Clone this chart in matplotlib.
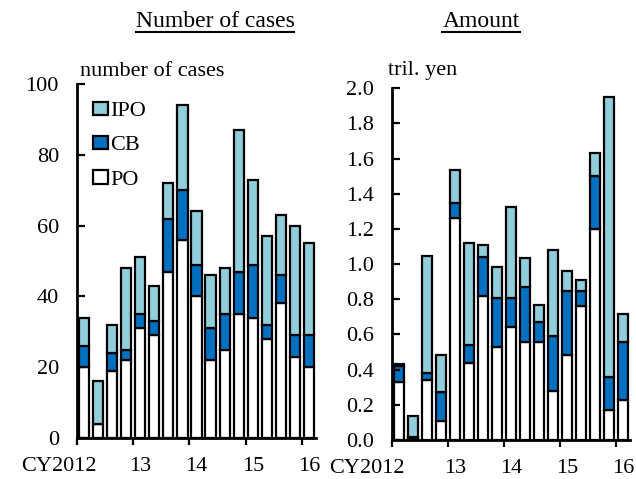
import matplotlib
matplotlib.use('Agg')
import matplotlib.pyplot as plt
from matplotlib.patches import Patch
from matplotlib.lines import Line2D
from matplotlib.transforms import ScaledTranslation
import numpy as np

plt.rcParams['font.family'] = ['Liberation Serif', 'DejaVu Serif']

# quarterly, CY2012 Q1 .. CY2016 Q1
year_labels = ['CY2012', '13', '14', '15', '16']

# number of cases
cases_po = [20, 4, 19, 22, 31, 29, 47, 56, 40, 22, 25, 35, 34, 28, 38, 23, 20]
cases_cb = [6, 0, 5, 3, 4, 4, 15, 14, 9, 9, 10, 12, 15, 4, 8, 6, 9]
cases_ipo = [8, 12, 8, 23, 16, 10, 10, 24, 15, 15, 13, 40, 24, 25, 17, 31, 26]

# amount, tril. yen
amt_po = [0.33, 0.01, 0.34, 0.11, 1.26, 0.44, 0.82, 0.53, 0.645, 0.555, 0.555, 0.28, 0.485, 0.76, 1.20, 0.17, 0.23]
amt_cb = [0.09, 0.005, 0.04, 0.165, 0.085, 0.10, 0.22, 0.28, 0.16, 0.315, 0.115, 0.31, 0.36, 0.085, 0.30, 0.19, 0.325]
amt_ipo = [0.015, 0.12, 0.665, 0.21, 0.19, 0.58, 0.07, 0.175, 0.52, 0.165, 0.10, 0.49, 0.115, 0.065, 0.13, 1.59, 0.16]

c_po = 'white'
c_cb = '#0070C0'
c_ipo = '#92CDDC'

fig = plt.figure(figsize=(6.36, 4.79), dpi=100)
ax1 = fig.add_axes([77/636, 1-438/479, 239/636, 354/479])
ax2 = fig.add_axes([392/636, 1-440/479, 238/636, 351.7/479])


def stacked(ax, po, cb, ipo, first_shift):
    x = np.arange(len(po))
    po = np.array(po); cb = np.array(cb); ipo = np.array(ipo)
    kw = dict(width=0.72, edgecolor='black', linewidth=1.6)
    ax.bar(x, po, color=c_po, **kw)
    ax.bar(x, cb, bottom=po, color=c_cb, **kw)
    ax.bar(x, ipo, bottom=po+cb, color=c_ipo, **kw)
    ax.set_xlim(-0.5, len(po)-0.5)
    for s in ['top', 'right']:
        ax.spines[s].set_visible(False)
    for s in ['left', 'bottom']:
        ax.spines[s].set_linewidth(2)
    ax.set_xticks(np.arange(-0.5, len(po), 4))
    ax.set_xticklabels([])
    ax.set_xticks(np.arange(0, len(po), 4), minor=True)
    ax.set_xticklabels(year_labels, minor=True, fontsize=16)
    ax.tick_params(axis='x', which='major', direction='out', length=5, width=1.6)
    ax.tick_params(axis='x', which='minor', length=0, pad=13.5)
    ax.tick_params(axis='y', direction='in', length=6, width=1.6, labelsize=16, pad=13)
    # first year label sits left of its bar
    lbl = ax.get_xticklabels(minor=True)[0]
    lbl.set_transform(lbl.get_transform() + ScaledTranslation(first_shift/100, 0, fig.dpi_scale_trans))


stacked(ax1, cases_po, cases_cb, cases_ipo, -25)
ax1.set_ylim(0, 100)
ax1.set_yticks(np.arange(0, 101, 20))

stacked(ax2, amt_po, amt_cb, amt_ipo, -32)
ax2.set_ylim(0, 2.0)
ax2.set_yticks(np.arange(0, 2.01, 0.2))
ax2.set_yticklabels(['%.1f' % v for v in np.arange(0, 2.01, 0.2)])

fig.text(80/636, 1-76/479, 'number of cases', fontsize=16, va='baseline', ha='left')
fig.text(388/636, 1-75/479, 'tril. yen', fontsize=16, va='baseline', ha='left')

handles = [Patch(facecolor=c_ipo, edgecolor='black', linewidth=1.6, label='IPO'),
           Patch(facecolor=c_cb, edgecolor='black', linewidth=1.6, label='CB'),
           Patch(facecolor=c_po, edgecolor='black', linewidth=1.6, label='PO')]
ax1.legend(handles=handles, loc='upper left', bbox_to_anchor=(0.068, 0.95),
           frameon=False, fontsize=16, handlelength=0.65, handleheight=0.55,
           handletextpad=0.12, labelspacing=0.66, borderpad=0, borderaxespad=0)

# underlined panel titles
titles = [('Number of cases', 215), ('Amount', 481)]
fig.canvas.draw()
r = fig.canvas.get_renderer()
for txt, xc in titles:
    t = fig.text(xc/636, 1-27/479, txt, fontsize=17, ha='center', va='baseline')
    bb = t.get_window_extent(renderer=r)
    x0, x1 = bb.x0/636, bb.x1/636
    fig.add_artist(Line2D([x0, x1], [1-32/479, 1-32/479], color='black', linewidth=1.5,
                          transform=fig.transFigure))

fig.savefig('out.png', dpi=100)
